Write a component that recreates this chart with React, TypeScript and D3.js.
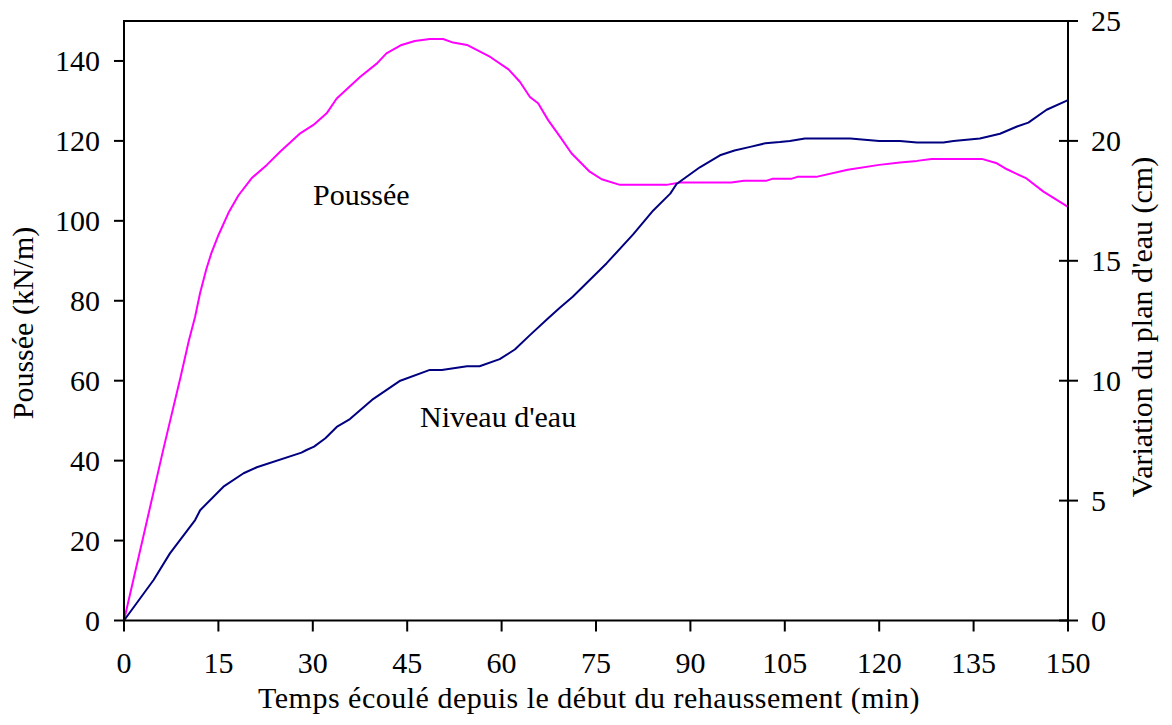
import React from "react";
import * as d3 from "d3";

const xTicks = [0, 15, 30, 45, 60, 75, 90, 105, 120, 135, 150];
const leftTicks = [0, 20, 40, 60, 80, 100, 120, 140];
const rightTicks = [0, 5, 10, 15, 20, 25];

// Poussée (kN/m) vs time (min)
const pousseeT = [0, 3, 6.2, 9, 10.3, 11.3, 12.1, 13.1, 13.9, 15, 16.6, 18.2, 20.3, 22.7, 24.8, 28, 30.1, 32.2, 33.8, 37.5, 40.2, 41.7, 44.1, 46.2, 48.6, 50.7, 52.3, 54.5, 58.2, 61.1, 62.9, 64.5, 65.8, 67.4, 69.3, 71.1, 74, 75.9, 78.8, 86.2, 88.4, 96.5, 98.5, 102, 103, 106, 107, 110, 115, 120, 123.3, 126, 128.3, 136.3, 138.7, 140.3, 143.4, 146.1, 150];
const pousseeV = [0, 20.5, 42.5, 61, 70, 76, 82, 88, 92, 96.4, 102, 106.4, 110.7, 114, 117.3, 121.9, 124, 126.9, 130.6, 136, 139.4, 141.9, 144, 145, 145.5, 145.5, 144.6, 144, 141, 137.9, 134.8, 131, 129.4, 125.2, 121, 116.9, 112.3, 110.4, 109, 109, 109.6, 109.6, 110, 110, 110.5, 110.5, 111, 111, 112.8, 114, 114.6, 115, 115.5, 115.5, 114.4, 112.9, 110.6, 107.3, 103.5];

// Niveau d'eau (cm) vs time (min)
const niveauT = [0, 2, 4.7, 7.3, 11.3, 12.1, 15.8, 19, 21.1, 28.2, 29, 30.2, 32, 33.8, 35.9, 39.4, 43.9, 48.6, 50.5, 54.5, 56.5, 59.7, 62.1, 64.5, 67.4, 69.3, 71.3, 76.7, 80.9, 84.1, 86.8, 87.8, 89.9, 91.5, 94.7, 97, 99.5, 101.9, 104.2, 105.8, 108.2, 115.4, 120, 123.3, 126, 130.2, 131.8, 136, 139.2, 141.9, 143.7, 146.6, 150];
const niveauV = [0, 0.72, 1.69, 2.8, 4.19, 4.6, 5.58, 6.14, 6.39, 7.0, 7.11, 7.25, 7.6, 8.07, 8.4, 9.2, 10.0, 10.45, 10.45, 10.6, 10.6, 10.9, 11.3, 11.9, 12.6, 13.05, 13.5, 14.9, 16.1, 17.1, 17.8, 18.2, 18.6, 18.9, 19.4, 19.6, 19.75, 19.9, 19.95, 20.0, 20.1, 20.1, 20.0, 20.0, 19.93, 19.93, 20.0, 20.1, 20.3, 20.6, 20.76, 21.3, 21.7];

const FONT = "'Liberation Serif', 'Times New Roman', 'DejaVu Serif', serif";

export default function App() {
  const left = 124, right = 1068, top = 21, bottom = 620.5;
  const x = d3.scaleLinear().domain([0, 150]).range([left, right]);
  const yL = d3.scaleLinear().domain([0, 150]).range([bottom, top]);
  const yR = d3.scaleLinear().domain([0, 25]).range([bottom, top]);

  const lineP = d3.line<number>().x((_, i) => x(pousseeT[i])).y((v) => yL(v));
  const lineN = d3.line<number>().x((_, i) => x(niveauT[i])).y((v) => yR(v));

  const fs = 30;
  return (
    <svg width={1172} height={725} style={{ position: "absolute", left: 0, top: 0, background: "#fff" }} fontFamily={FONT}>
      <rect x={0} y={0} width={1172} height={725} fill="#fff" />
      {/* curves */}
      <path d={lineP(pousseeV) || ""} fill="none" stroke="#FF00FF" strokeWidth={2} strokeLinejoin="round" />
      <path d={lineN(niveauV) || ""} fill="none" stroke="#000080" strokeWidth={2} strokeLinejoin="round" />
      {/* frame */}
      <line x1={left} y1={top} x2={right} y2={top} stroke="#000" strokeWidth={2} />
      <line x1={left} y1={top - 1} x2={left} y2={bottom + 1} stroke="#000" strokeWidth={2} />
      <line x1={right} y1={top - 1} x2={right} y2={bottom + 1} stroke="#000" strokeWidth={2} />
      <line x1={left - 1} y1={bottom} x2={right + 1} y2={bottom} stroke="#000" strokeWidth={2} />
      {/* x ticks */}
      {xTicks.map((t) => (
        <g key={"x" + t}>
          <line x1={x(t)} y1={bottom} x2={x(t)} y2={bottom + 11} stroke="#000" strokeWidth={2} />
          <text x={x(t)} y={673} textAnchor="middle" fontSize={fs} fill="#000">{t}</text>
        </g>
      ))}
      {/* left ticks */}
      {leftTicks.map((t) => (
        <g key={"l" + t}>
          <line x1={left - 10} y1={yL(t)} x2={left} y2={yL(t)} stroke="#000" strokeWidth={2} />
          <text x={100} y={yL(t) + 10} textAnchor="end" fontSize={fs} fill="#000">{t}</text>
        </g>
      ))}
      {/* right ticks */}
      {rightTicks.map((t) => (
        <g key={"r" + t}>
          <line x1={right - 9} y1={yR(t)} x2={right + 10} y2={yR(t)} stroke="#000" strokeWidth={2} />
          <text x={1091} y={yR(t) + 10} textAnchor="start" fontSize={fs} fill="#000">{t}</text>
        </g>
      ))}
      {/* axis titles */}
      <text x={589} y={708} textAnchor="middle" fontSize={fs} letterSpacing={0.5} fill="#000">Temps écoulé depuis le début du rehaussement (min)</text>
      <text transform="translate(33,323) rotate(-90)" textAnchor="middle" fontSize={fs} fill="#000">Poussée (kN/m)</text>
      <text transform="translate(1152,327) rotate(-90)" textAnchor="middle" fontSize={fs} fill="#000">Variation du plan d'eau (cm)</text>
      {/* series labels */}
      <text x={313} y={205} fontSize={fs} fill="#000">Poussée</text>
      <text x={420} y={427} fontSize={fs} fill="#000">Niveau d'eau</text>
    </svg>
  );
}
